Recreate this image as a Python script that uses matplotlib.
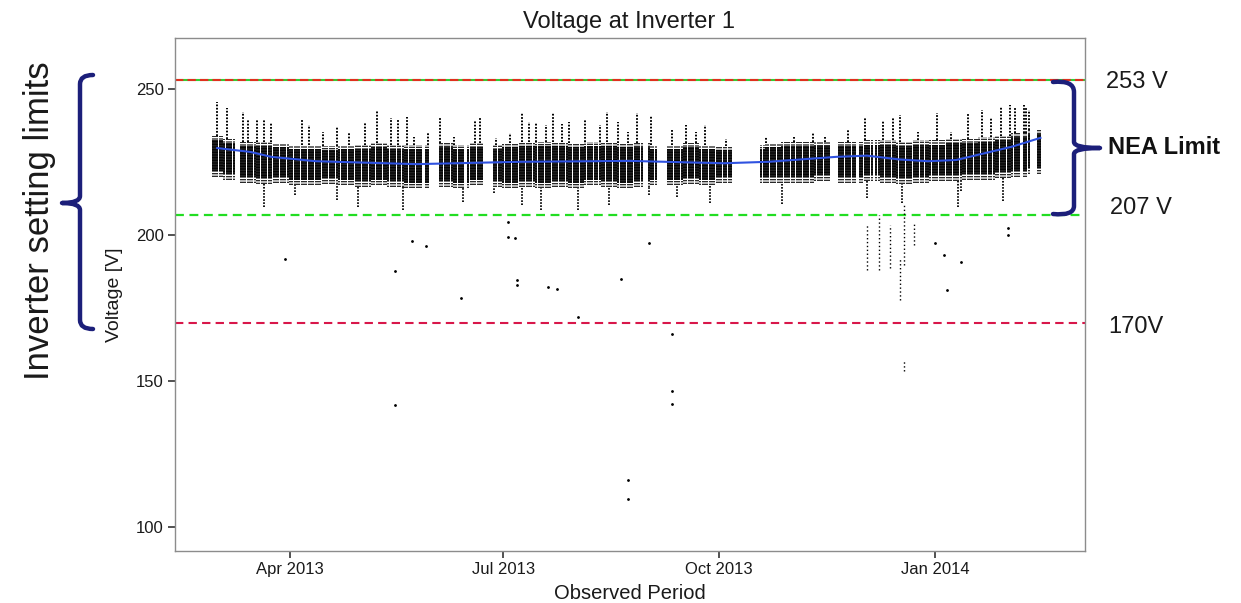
import numpy as np
import pandas as pd
import matplotlib
matplotlib.use("Agg")
import matplotlib.pyplot as plt
import matplotlib.dates as mdates
from matplotlib.path import Path
from matplotlib.patches import PathPatch

plt.rcParams['font.family'] = ['Liberation Sans', 'DejaVu Sans']

# periods with logged data (gaps in between)
seg_start = ["2013-02-27", "2013-03-11", "2013-05-29", "2013-06-04", "2013-06-16",
             "2013-06-27", "2013-09-01", "2013-09-09", "2013-10-19", "2013-11-21",
             "2013-11-30", "2013-12-07", "2014-02-08", "2014-02-14"]
seg_end = ["2013-03-08", "2013-05-27", "2013-05-30", "2013-06-14", "2013-06-22",
           "2013-08-29", "2013-09-04", "2013-10-06", "2013-11-17", "2013-11-28",
           "2013-12-05", "2014-02-06", "2014-02-10", "2014-02-15"]

# weekly dense band of readings (V)
week_start = pd.date_range("2013-02-25", periods=51, freq="7D")
core_lo = [220, 219, 218, 217.5, 218, 217, 217, 217.5, 217, 216.5,
           217, 216.5, 216, 216, 216.5, 216, 217, 216.5, 216, 216.5,
           216, 216.5, 216, 217, 216.5, 216, 216.5, 217, 217, 217.5,
           217, 218, 218, 218, 218, 218, 218, 218.5, 218, 218,
           218.5, 218, 217.5, 218, 218.5, 218.5, 219, 219, 219.5, 220,
           221]
core_hi = [234, 233, 232, 232, 231.5, 231, 231, 230.5, 231, 231,
           231.5, 231, 231, 231, 231.5, 231, 231.5, 231, 231.5, 232,
           232, 232, 231.5, 232, 232, 231.5, 231.5, 231, 231, 231.5,
           231, 230.5, 231, 231, 231.5, 232, 232, 232, 232, 232,
           232.5, 232.5, 232, 232.5, 232.5, 233, 233, 233.5, 234, 235,
           236]

# upward spikes (top value)
spike_dates = ["2013-03-01", "2013-03-05", "2013-03-12", "2013-03-14", "2013-03-18",
               "2013-03-21", "2013-03-24", "2013-04-06", "2013-04-09", "2013-04-15",
               "2013-04-21", "2013-04-26", "2013-05-03", "2013-05-08", "2013-05-14",
               "2013-05-17", "2013-05-21", "2013-05-24", "2013-05-30", "2013-06-04",
               "2013-06-10", "2013-06-19", "2013-06-21", "2013-06-28", "2013-07-04",
               "2013-07-09", "2013-07-12", "2013-07-15", "2013-07-19", "2013-07-22",
               "2013-07-26", "2013-07-29", "2013-08-05", "2013-08-11", "2013-08-14",
               "2013-08-19", "2013-08-23", "2013-08-27", "2013-09-02", "2013-09-11",
               "2013-09-17", "2013-09-21", "2013-09-25", "2013-10-04", "2013-10-21",
               "2013-11-02", "2013-11-10", "2013-11-15", "2013-11-25", "2013-12-02",
               "2013-12-10", "2013-12-14", "2013-12-17", "2013-12-25", "2014-01-02",
               "2014-01-08", "2014-01-15", "2014-01-21", "2014-01-25", "2014-01-29",
               "2014-02-02", "2014-02-04", "2014-02-08", "2014-02-09", "2014-02-10"]
spike_top = [245.7, 243.5, 242.2, 239.4, 239.4, 239.4, 238.5, 239.4, 237.8, 235.4,
             237.0, 235.4, 238.3, 242.8, 240.0, 239.4, 240.5, 233.6, 235.4, 240.0,
             233.7, 239.4, 240.5, 233.4, 234.8, 241.7, 238.8, 238.5, 237.8, 241.7,
             238.2, 238.8, 239.4, 237.8, 242.2, 238.8, 235.4, 241.7, 240.8, 236.5,
             237.8, 235.4, 237.8, 233.0, 233.6, 233.6, 234.8, 233.6, 236.5, 240.5,
             239.0, 240.5, 241.1, 235.4, 241.7, 235.4, 241.7, 242.8, 240.0, 244.0,
             244.5, 244.0, 244.5, 244.0, 243.0]

# downward dips (bottom value)
dip_dates = ["2013-03-21", "2013-04-03", "2013-04-21", "2013-04-30", "2013-05-19",
             "2013-06-14", "2013-06-27", "2013-07-09", "2013-07-17", "2013-08-02",
             "2013-08-15", "2013-09-01", "2013-09-13", "2013-09-27", "2013-10-28",
             "2013-12-03", "2013-12-18", "2014-01-11", "2014-01-12", "2014-01-30"]
dip_bottom = [209.7, 213.7, 212.0, 209.7, 208.6, 211.4, 214.4, 210.3, 208.6, 208.6,
              210.3, 213.7, 213.2, 211.0, 210.8, 212.7, 211.0, 209.7, 215.0, 211.7]

# low-voltage streaks in December
streak_dates = ["2013-12-03", "2013-12-08", "2013-12-13", "2013-12-17", "2013-12-19",
                "2013-12-23", "2013-12-19"]
streak_hi = [203.4, 206.8, 203.4, 192.0, 210.3, 204.5, 157.0]
streak_lo = [188.0, 188.0, 188.7, 177.7, 189.7, 196.6, 153.5]

# isolated readings
out_dates = ["2013-03-30", "2013-05-16", "2013-05-23", "2013-05-29", "2013-05-16",
             "2013-06-13", "2013-07-03", "2013-07-03", "2013-07-06", "2013-07-07",
             "2013-07-07", "2013-07-20", "2013-07-24", "2013-08-02", "2013-08-20",
             "2013-08-23", "2013-08-23", "2013-09-01", "2013-09-11", "2013-09-11",
             "2013-09-11", "2014-01-01", "2014-01-05", "2014-01-06", "2014-01-12",
             "2014-02-01", "2014-02-01"]
out_volts = [191.8, 187.7, 198.0, 196.2, 141.8,
             178.4, 204.5, 199.3, 199.0, 184.6,
             182.9, 182.2, 181.5, 171.9, 185.0,
             116.1, 109.6, 197.3, 166.0, 146.6,
             142.1, 197.3, 193.2, 181.2, 190.8,
             200.0, 202.4]

# smoothed trend
trend_dates = ["2013-03-01", "2013-03-15", "2013-03-24", "2013-04-12", "2013-05-25",
               "2013-07-08", "2013-08-24", "2013-10-03", "2013-10-22", "2013-11-20",
               "2013-12-03", "2013-12-17", "2013-12-29", "2014-01-10", "2014-01-22",
               "2014-02-03", "2014-02-15"]
trend_volts = [229.8, 228.5, 226.8, 225.3, 224.3, 225.1, 225.4, 224.6, 225.1, 226.8,
               227.2, 225.9, 225.3, 225.7, 228.0, 230.3, 233.3]

nea_hi = 253
nea_lo = 207
inv_lo = 170

W, H = 1241, 603


def px(x, y):
    return x / W, 1 - y / H


def week_idx(d):
    return int((d - week_start[0]).days // 7)


fig = plt.figure(figsize=(W / 100, H / 100), dpi=100)
ax = fig.add_axes([175 / W, 1 - 551 / H, 910 / W, 513 / H])

# dense band, one column per logged day
xs, lo, hi = [], [], []
for s, e in zip(seg_start, seg_end):
    for d in pd.date_range(s, e, freq="D"):
        i = week_idx(d)
        xs.append(d)
        lo.append(core_lo[i])
        hi.append(core_hi[i])
lo = np.array(lo)
hi = np.array(hi)
# loose outer part as dotted columns, dense middle as solid columns
ax.vlines(xs, lo, hi, color="black", lw=1.2, linestyles=[(0, (0.8, 0.8))], zorder=2)
ax.vlines(xs, lo + 2, hi - 1.5, color="black", lw=1.35, alpha=0.92, zorder=2)

dot = (0, (0.9, 0.8))
sd = pd.to_datetime(spike_dates)
ax.vlines(sd, [core_hi[week_idx(d)] for d in sd], spike_top,
          color="black", lw=1.4, linestyles=[dot], zorder=2)
dd = pd.to_datetime(dip_dates)
ax.vlines(dd, dip_bottom, [core_lo[week_idx(d)] for d in dd],
          color="black", lw=1.3, linestyles=[dot], zorder=2)
ax.vlines(pd.to_datetime(streak_dates), streak_lo, streak_hi,
          color="black", lw=1.0, linestyles=[(0, (1, 1.8))], zorder=2)
ax.plot(pd.to_datetime(out_dates), out_volts, "o", color="black", ms=1.0,
        ls="none", zorder=2)

ax.plot(pd.to_datetime(trend_dates), trend_volts, color="#2f52e0", lw=1.5, zorder=3)

# limit lines
ax.axhline(nea_hi, color="#33cc33", lw=1.5, zorder=1)
ax.axhline(nea_hi, color="#e0301e", lw=1.5, ls=(0, (4, 2)), zorder=1)
ax.axhline(nea_lo, color="#22dd22", lw=1.6, ls=(0, (4, 2.5)), zorder=1)
ax.axhline(inv_lo, color="#d8174a", lw=1.5, ls=(0, (4, 2.5)), zorder=1)

ax.set_xlim(pd.Timestamp("2013-02-11"), pd.Timestamp("2014-03-06"))
ax.set_ylim(91.8, 267.5)
ax.set_yticks([100, 150, 200, 250])
ax.xaxis.set_major_locator(mdates.MonthLocator(bymonth=[1, 4, 7, 10]))
ax.xaxis.set_major_formatter(mdates.DateFormatter("%b %Y"))
for sp in ax.spines.values():
    sp.set_color("#8c8c8c")
    sp.set_linewidth(1.0)
ax.tick_params(direction="out", length=5, width=1.1, color="#222222",
               labelsize=12, labelcolor="#1a1a1a", pad=3)

ax.set_xlabel("Observed Period", fontsize=14.5, color="#1a1a1a")
ax.xaxis.set_label_coords(0.5, -0.065)
ax.set_ylabel("Voltage [V]", fontsize=14, color="#1a1a1a")
ax.yaxis.set_label_coords(-0.057, 0.5)
fig.text(*px(629, 22), "Voltage at Inverter 1", fontsize=17, ha="center",
         va="center", color="#1a1a1a")

# brackets
navy = "#1c1f7a"
V, C = Path.MOVETO, Path.CURVE3
L = Path.LINETO
codes = [V, C, C, L, C, C, C, C, L, C, C]
left = [(93, 75), (80, 75), (80, 84), (80, 196), (80, 203), (62, 203),
        (80, 203), (80, 210), (80, 320), (80, 329), (93, 329)]
right = [(1053, 82), (1074, 80), (1074, 92), (1074, 142), (1074, 148), (1100, 148),
         (1074, 148), (1074, 154), (1074, 206), (1074, 216), (1053, 214)]
for pts in [left, right]:
    verts = [px(x, y) for x, y in pts]
    fig.add_artist(PathPatch(Path(verts, codes), transform=fig.transFigure,
                             fill=False, edgecolor=navy, lw=3.2, capstyle="round",
                             joinstyle="round"))

fig.text(*px(40, 221), "Inverter setting limits", rotation=90, fontsize=25,
         ha="center", va="center", color="#1a1a1a")
fig.text(*px(1106, 82), "253 V", fontsize=17, ha="left", va="center", color="#1a1a1a")
fig.text(*px(1108, 148), "NEA Limit", fontsize=17, fontweight="bold", ha="left",
         va="center", color="#111111")
fig.text(*px(1110, 208), "207 V", fontsize=17, ha="left", va="center", color="#1a1a1a")
fig.text(*px(1108, 327), "170V", fontsize=17, ha="left", va="center", color="#1a1a1a")

fig.savefig("out.png", dpi=100)
